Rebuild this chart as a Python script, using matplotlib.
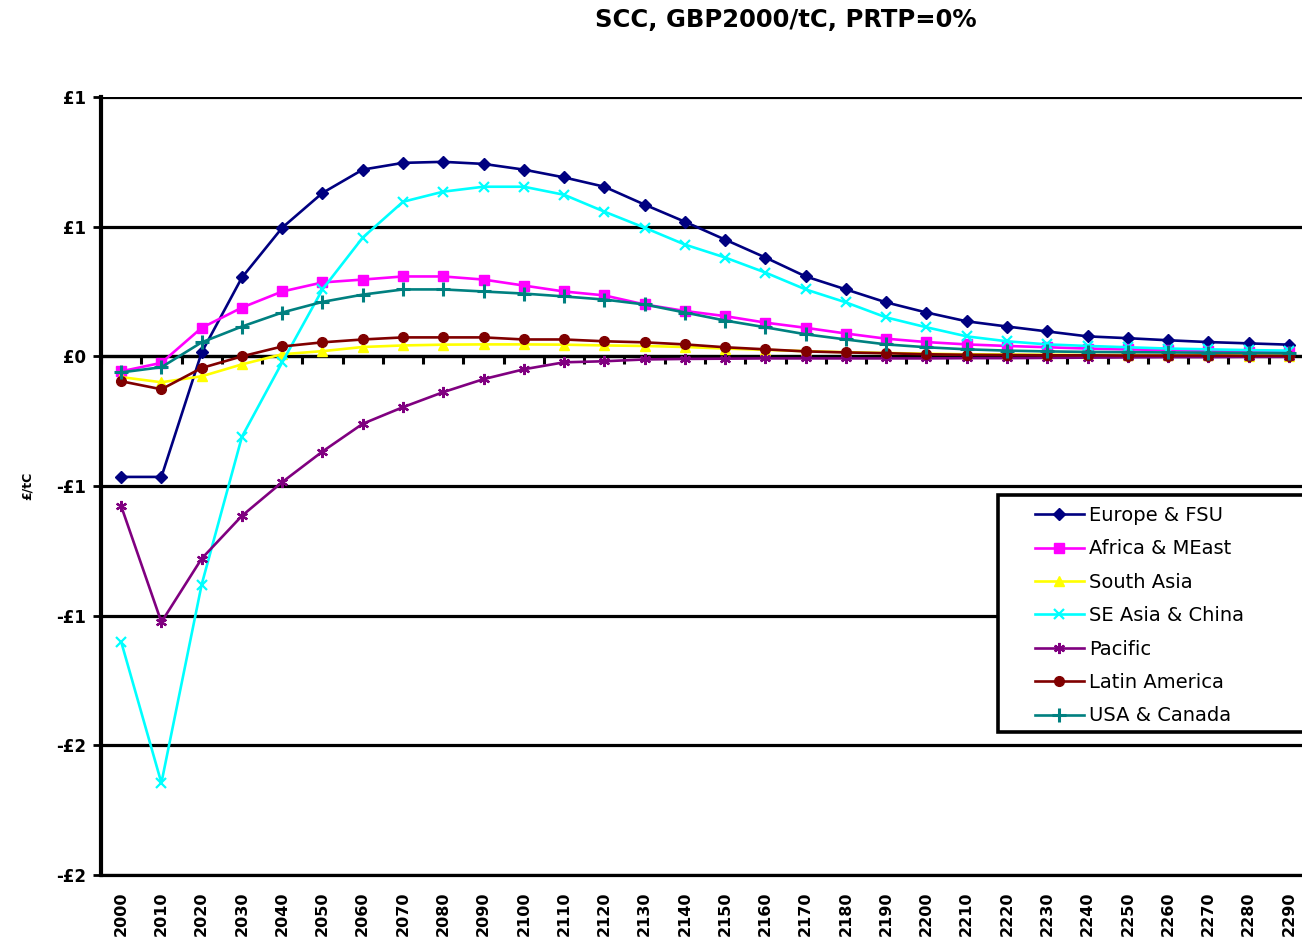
import numpy as np
import matplotlib
matplotlib.use("Agg")
import matplotlib.pyplot as plt
from matplotlib.patches import Rectangle

years = [str(y) for y in range(2000, 2300, 10)]

europe_fsu = [-0.465, -0.465, 0.015, 0.304, 0.496, 0.63, 0.72, 0.746, 0.75, 0.742,
              0.72, 0.69, 0.654, 0.585, 0.519, 0.45, 0.381, 0.308, 0.258, 0.208,
              0.169, 0.135, 0.115, 0.096, 0.077, 0.07, 0.062, 0.055, 0.05, 0.045]
africa_meast = [-0.058, -0.025, 0.11, 0.188, 0.25, 0.285, 0.296, 0.308, 0.308, 0.296,
                0.273, 0.25, 0.235, 0.2, 0.175, 0.155, 0.13, 0.11, 0.088, 0.068,
                0.055, 0.046, 0.04, 0.035, 0.03, 0.027, 0.024, 0.021, 0.018, 0.016]
south_asia = [-0.08, -0.1, -0.077, -0.031, 0.008, 0.02, 0.036, 0.042, 0.045, 0.046,
              0.046, 0.045, 0.042, 0.04, 0.036, 0.03, 0.025, 0.02, 0.016, 0.013,
              0.01, 0.008, 0.007, 0.006, 0.005, 0.005, 0.004, 0.004, 0.003, 0.003]
se_asia_china = [-1.10, -1.645, -0.88, -0.31, -0.023, 0.258, 0.458, 0.596, 0.635, 0.654,
                 0.654, 0.623, 0.558, 0.496, 0.431, 0.381, 0.323, 0.258, 0.208, 0.15,
                 0.112, 0.077, 0.058, 0.046, 0.04, 0.035, 0.03, 0.027, 0.024, 0.022]
pacific = [-0.577, -1.025, -0.78, -0.615, -0.485, -0.367, -0.26, -0.196, -0.138, -0.088,
           -0.05, -0.023, -0.019, -0.012, -0.01, -0.009, -0.008, -0.008, -0.008, -0.008,
           -0.008, -0.007, -0.007, -0.006, -0.005, -0.004, -0.003, -0.003, -0.002, -0.002]
latin_america = [-0.096, -0.127, -0.045, 0.0, 0.038, 0.054, 0.065, 0.073, 0.073, 0.073,
                 0.065, 0.065, 0.058, 0.054, 0.046, 0.035, 0.027, 0.019, 0.015, 0.012,
                 0.008, 0.006, 0.005, 0.004, 0.004, 0.003, 0.003, 0.003, 0.002, 0.002]
usa_canada = [-0.062, -0.042, 0.054, 0.115, 0.169, 0.21, 0.238, 0.258, 0.258, 0.25,
              0.242, 0.231, 0.219, 0.2, 0.169, 0.138, 0.112, 0.085, 0.065, 0.046,
              0.035, 0.027, 0.022, 0.019, 0.017, 0.016, 0.015, 0.014, 0.013, 0.012]

series_names = ["Europe & FSU", "Africa & MEast", "South Asia", "SE Asia & China",
                "Pacific", "Latin America", "USA & Canada"]
series_values = [europe_fsu, africa_meast, south_asia, se_asia_china,
                 pacific, latin_america, usa_canada]

y_ticks = [1.0, 0.5, 0.0, -0.5, -1.0, -1.5, -2.0]
y_tick_labels = ["£1", "£1", "£0", "-£1", "-£1", "-£2", "-£2"]

title = "SCC, GBP2000/tC, PRTP=0%"
y_label = "£/tC"

colors = ["#000080", "#FF00FF", "#FFFF00", "#00FFFF", "#800080", "#800000", "#008080"]
markers = ["D", "s", "^", "x", (6, 2, 0), "o", "+"]
msizes = [6, 7, 7, 7, 8, 7, 10]
mews = [1, 1, 1, 1.6, 1.6, 1, 2.2]

W, H = 1302, 939
fig = plt.figure(figsize=(W / 100, H / 100), dpi=100)
left, right, top, bottom = 101, 1309, 97, 875
ax = fig.add_axes([left / W, 1 - bottom / H, (right - left) / W, (bottom - top) / H])

x = np.arange(len(years))
for name, vals, c, m, ms, mew in zip(series_names, series_values, colors, markers, msizes, mews):
    ax.plot(x, vals, color=c, lw=1.9, marker=m, ms=ms, mew=mew, mec=c, mfc=c,
            label=name, zorder=3, clip_on=False)

ax.set_xlim(-0.5, len(years) - 0.5)
ax.set_ylim(-2.0, 1.0)
ax.set_yticks(y_ticks)
ax.set_yticklabels(y_tick_labels, fontsize=12, fontweight="bold", family="DejaVu Sans")
ax.tick_params(axis="y", length=6, width=2, pad=5, direction="out")
ax.set_xticks(x)
ax.set_xticklabels(years, rotation=90, fontsize=11.5, fontweight="bold", family="DejaVu Sans")
ax.tick_params(axis="x", length=0, pad=12)
ax.grid(axis="y", color="black", lw=2.3, zorder=1)
ax.set_axisbelow(True)
for s in ["top", "right"]:
    ax.spines[s].set_visible(False)
ax.spines["left"].set_linewidth(3)
ax.spines["bottom"].set_linewidth(2.3)

# category axis crossing at zero with ticks between categories
sec = ax.secondary_xaxis((0 - (-2.0)) / 3.0)
sec.set_xticks(np.arange(-0.5, len(years), 1.0))
sec.set_xticklabels([])
sec.tick_params(axis="x", length=6, width=2.2, direction="in")
for sp in sec.spines.values():
    sp.set_linewidth(2.3)

ax.set_ylabel(y_label, fontsize=9, fontweight="bold", labelpad=16)

fig.text(786 / W, 1 - 20 / H, title, ha="center", va="center",
         fontsize=17.5, fontweight="bold", family="DejaVu Sans")

# legend frame
rect = Rectangle((998 / W, 1 - 732 / H), 400 / W, (732 - 495) / H, transform=fig.transFigure,
                 facecolor="white", edgecolor="black", lw=2.6, zorder=10, clip_on=False)
ax.add_patch(rect)
leg = ax.legend(loc="upper left", bbox_to_anchor=(1035 / W, 1 - 506 / H),
                bbox_transform=fig.transFigure, frameon=False, fontsize=14,
                handlelength=2.5, handletextpad=0.3, labelspacing=0.74, borderpad=0,
                borderaxespad=0)
leg.set_zorder(11)

fig.savefig("out.png", dpi=100)
